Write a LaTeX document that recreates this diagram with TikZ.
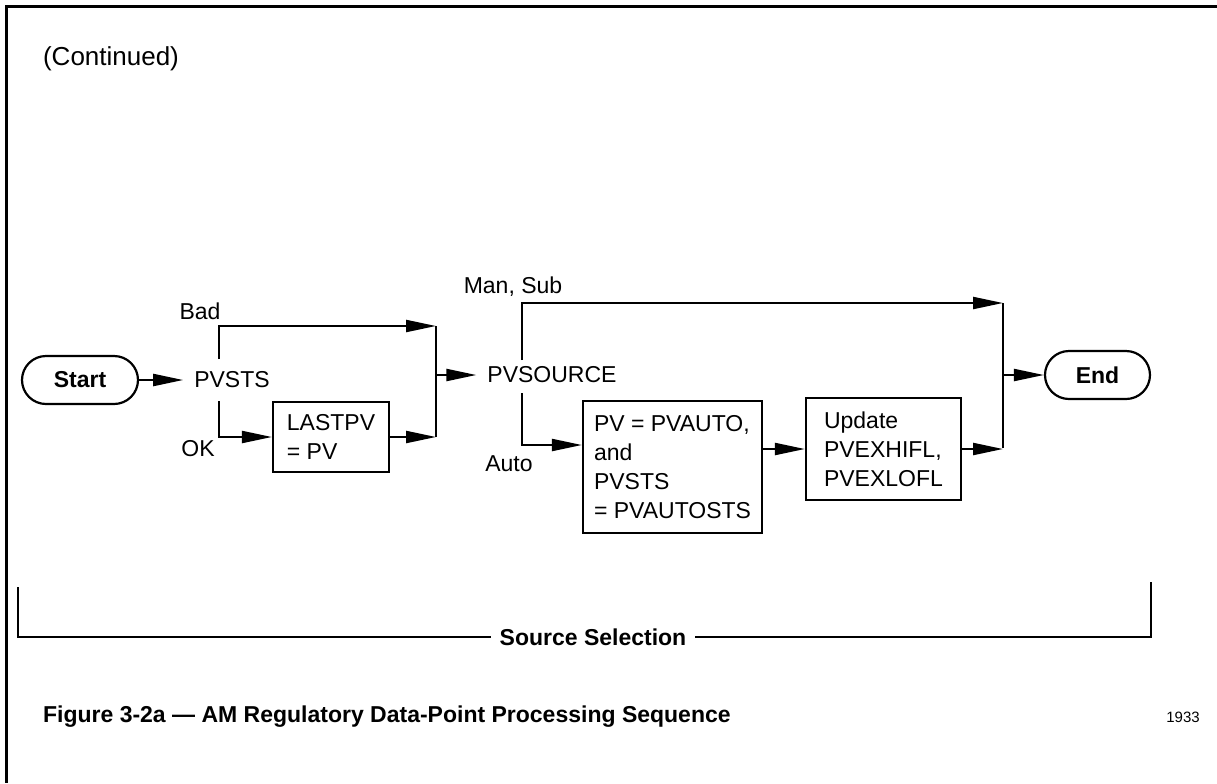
\documentclass[tikz,border=0pt]{standalone}
\usepackage{fontspec}
\setmainfont{Liberation Sans}
\usetikzlibrary{arrows.meta,positioning}

\begin{document}
\begin{tikzpicture}[x=0.5pt, y=-0.5pt, line width=1.1pt,
	>={Triangle[length=15pt,width=6pt]},
	every node/.style={font=\fontsize{11.5}{14.5}\selectfont},
	term/.style={draw, rounded corners=12pt, minimum height=24pt,
		font=\fontsize{11.5}{14.5}\selectfont\bfseries},
	box/.style={draw, align=left, inner sep=0pt},
	lbl/.style={inner sep=5pt}]
	\useasboundingbox (0,0) rectangle (1217,783);
	\draw [line width=1.5pt] (1217,6) -- (6,6) -- (6,783);
	\node (cont) at (111,59) {\fontsize{13}{15}\selectfont (Continued)};

	\node (Start) [term, minimum width=58pt] at (80,380) {Start};
	\node (PVSTS) [lbl] at (232,380) {PVSTS};
	\node (LASTPV) [box, minimum width=58pt, minimum height=35pt] at (331,437) {LASTPV\\= PV};
	\node (PVSOURCE) [lbl] at (552,375) {PVSOURCE};
	\node (PVbox) [box, minimum width=89.5pt, minimum height=66pt] at (672.5,467) {PV = PVAUTO,\\and\\PVSTS\\= PVAUTOSTS};
	\node (Update) [box, minimum width=77.5pt, minimum height=51pt] at (883.5,449) {Update\\PVEXHIFL,\\PVEXLOFL};
	\node (End) [term, minimum width=52.5pt] at (1097.5,375) {End};

	\node (bad) at (200,311) {Bad};
	\node (ok) at (198,449) {OK};
	\node (mansub) at (513,287) {Man, Sub};
	\node (auto) at (509,464) {Auto};

	\coordinate (stsU) at (219,359);
	\coordinate (stsD) at (219,401);
	\coordinate (srcU) at (522,360);
	\coordinate (srcD) at (522,393);
	\coordinate (j1t) at (436,326);
	\coordinate (j1b) at (436,437);
	\coordinate (j2t) at (1003,303);
	\coordinate (j2b) at (1003,448);

	\draw (j1t) -- (j1b);
	\draw (j2t) -- (j2b);
	\draw [->] (Start) -- (PVSTS);
	\draw [->] (stsU) |- (j1t);
	\draw [->] (stsD) |- (LASTPV.west);
	\draw [->] (LASTPV) -- (LASTPV -| j1t);
	\draw [->] (j1t |- PVSOURCE) -- (PVSOURCE);
	\draw [->] (srcU) |- (j2t);
	\draw [->] (srcD) |- ([yshift=11pt]PVbox.west);
	\draw [->] (PVbox.east |- Update) -- (Update);
	\draw [->] (Update) -- (Update -| j2t);
	\draw [->] (j2t |- End) -- (End);

	% source selection bracket
	\coordinate (sl) at (18,587);
	\coordinate (sr) at (1151,582);
	\node (srcsel) [fill=white, inner sep=4pt, font=\fontsize{11.5}{14}\selectfont\bfseries] at (593,637) {Source Selection};
	\draw (sl) |- (srcsel.west);
	\draw (sr) |- (srcsel.east);

	\node (caption) [anchor=west, inner sep=0pt, font=\fontsize{11.5}{14}\selectfont\bfseries] at (42,717) {Figure 3-2a --- AM Regulatory Data-Point Processing Sequence};
	\node (num) [font=\fontsize{7.5}{9}\selectfont] at (1183,717) {1933};
\end{tikzpicture}
\end{document}
